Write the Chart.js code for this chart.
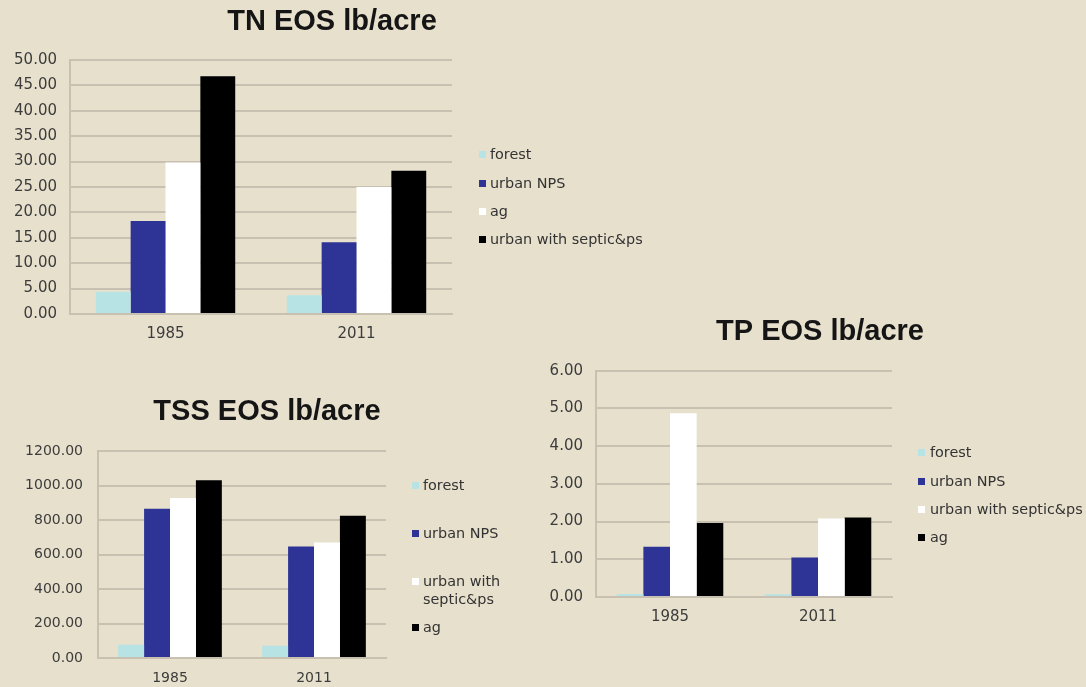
<!DOCTYPE html>
<html>
<head>
<meta charset="utf-8">
<script src="https://cdn.jsdelivr.net/npm/chart.js@4.4.1/dist/chart.umd.min.js"></script>
<style>
html, body { margin:0; padding:0; width:1086px; height:687px; overflow:hidden; background:#e7e0cd; position:relative; }
canvas { position:absolute; }
.lg { position:absolute; font-family:"DejaVu Sans", sans-serif; font-size:14.4px; line-height:18px; color:#333; white-space:nowrap; }
.mk { position:absolute; width:7px; height:7px; }
</style>
</head>
<body>
<canvas id="tn" width="664" height="354" style="left:0px;top:0px"></canvas>
<canvas id="tss" width="534" height="296" style="left:0px;top:390px"></canvas>
<canvas id="tp" width="560" height="337" style="left:540px;top:300px"></canvas>
<script>
// ---- data ----
const categories = ['1985', '2011'];

const tnSeriesNames = ['forest', 'urban NPS', 'ag', 'urban with septic&ps'];
const tnForest = [4.4, 3.7];
const tnUrbanNPS = [18.3, 14.1];
const tnAg = [29.8, 25.0];
const tnUrbanSeptic = [46.8, 28.2];
const tnTickMax = 50;
const tnTickStep = 5;

const tssSeriesNames = ['forest', 'urban NPS', 'urban with septic&ps', 'ag'];
const tssForest = [77, 71];
const tssUrbanNPS = [865, 647];
const tssUrbanSeptic = [927, 670];
const tssAg = [1030, 825];
const tssTickMax = 1200;
const tssTickStep = 200;

const tpSeriesNames = ['forest', 'urban NPS', 'urban with septic&ps', 'ag'];
const tpForest = [0.08, 0.07];
const tpUrbanNPS = [1.33, 1.05];
const tpUrbanSeptic = [4.87, 2.08];
const tpAg = [1.96, 2.11];
const tpTickMax = 6;
const tpTickStep = 1;

// ---- styles ----
const C_FOREST = '#b8e3e5';
const C_NPS = '#2e3496';
const C_WHITE = '#ffffff';
const C_BLACK = '#000000';
const GRID = 'rgb(200,193,178)';
const TICK = '#3c3c3c';

function makeChart(id, cfg) {
  const tickFont = { family: 'DejaVu Sans', size: cfg.fs };
  return new Chart(document.getElementById(id), {
    type: 'bar',
    data: {
      labels: categories,
      datasets: cfg.series.map(s => ({
        label: s.name, data: s.data, backgroundColor: s.color,
        borderWidth: 0, barPercentage: 1, categoryPercentage: cfg.catPct
      }))
    },
    options: {
      responsive: false,
      animation: false,
      events: [],
      layout: { padding: 0 },
      plugins: {
        legend: { display: false },
        tooltip: { enabled: false },
        title: {
          display: true, text: cfg.title, color: '#151515',
          font: { family: 'Liberation Sans', size: 29, weight: 'bold', lineHeight: 1.2 },
          padding: { top: cfg.tTop, bottom: cfg.tBot }
        }
      },
      scales: {
        x: {
          grid: { display: false, drawTicks: false },
          border: { display: true, color: GRID, width: 2 },
          ticks: { padding: cfg.xPad, color: TICK, font: tickFont },
          afterFit: s => { s.height = cfg.xH; }
        },
        y: {
          min: 0, max: cfg.max,
          grid: { color: GRID, lineWidth: 2, drawTicks: false },
          border: { display: true, color: GRID, width: 2 },
          ticks: { stepSize: cfg.step, padding: cfg.yPad, color: TICK, font: tickFont,
                   callback: v => Number(v).toFixed(2) },
          afterFit: s => { s.width = cfg.yW; }
        },
        // empty right-hand box that reserves the room used by the legend
        legendSpace: {
          type: 'linear', position: 'right', display: true,
          grid: { display: false, drawTicks: false },
          border: { display: false },
          ticks: { display: false },
          afterFit: s => { s.width = cfg.padRight; }
        }
      }
    }
  });
}

makeChart('tn', {
  title: 'TN EOS lb/acre', max: tnTickMax, step: tnTickStep, catPct: 0.73, fs: 15,
  padRight: 212, yW: 70, yPad: 13, xH: 40, xPad: 11, tTop: 5, tBot: 20.2,
  series: [
    { name: tnSeriesNames[0], data: tnForest, color: C_FOREST },
    { name: tnSeriesNames[1], data: tnUrbanNPS, color: C_NPS },
    { name: tnSeriesNames[2], data: tnAg, color: C_WHITE },
    { name: tnSeriesNames[3], data: tnUrbanSeptic, color: C_BLACK }
  ]
});

makeChart('tss', {
  title: 'TSS EOS lb/acre', max: tssTickMax, step: tssTickStep, catPct: 0.72, fs: 14,
  padRight: 148, yW: 98, yPad: 15, xH: 28, xPad: 12, tTop: 4.6, tBot: 21.6,
  series: [
    { name: tssSeriesNames[0], data: tssForest, color: C_FOREST },
    { name: tssSeriesNames[1], data: tssUrbanNPS, color: C_NPS },
    { name: tssSeriesNames[2], data: tssUrbanSeptic, color: C_WHITE },
    { name: tssSeriesNames[3], data: tssAg, color: C_BLACK }
  ]
});

makeChart('tp', {
  title: 'TP EOS lb/acre', max: tpTickMax, step: tpTickStep, catPct: 0.72, fs: 15,
  padRight: 208, yW: 56, yPad: 13, xH: 40, xPad: 11, tTop: 14.6, tBot: 21.3,
  series: [
    { name: tpSeriesNames[0], data: tpForest, color: C_FOREST },
    { name: tpSeriesNames[1], data: tpUrbanNPS, color: C_NPS },
    { name: tpSeriesNames[2], data: tpUrbanSeptic, color: C_WHITE },
    { name: tpSeriesNames[3], data: tpAg, color: C_BLACK }
  ]
});

// ---- legends (HTML, real text) ----
function legend(markerX, textX, centers, names, colors, lines) {
  names.forEach((n, i) => {
    const cy = centers[i];
    const m = document.createElement('div');
    m.className = 'mk';
    m.style.left = markerX + 'px';
    m.style.top = (cy - 3.5) + 'px';
    m.style.background = colors[i];
    document.body.appendChild(m);
    const t = document.createElement('div');
    t.className = 'lg';
    t.style.left = textX + 'px';
    t.style.top = (cy - 9) + 'px';
    const parts = (lines && lines[i]) ? lines[i] : [n];
    parts.forEach((p, k) => {
      if (k) t.appendChild(document.createElement('br'));
      t.appendChild(document.createTextNode(p));
    });
    document.body.appendChild(t);
  });
}
legend(479, 490, [154, 183, 211, 239], tnSeriesNames, [C_FOREST, C_NPS, C_WHITE, C_BLACK]);
legend(412, 423, [485, 533, 581, 627], tssSeriesNames, [C_FOREST, C_NPS, C_WHITE, C_BLACK],
       { 2: ['urban with', 'septic&ps'] });
legend(918, 930, [452, 481, 509, 537], tpSeriesNames, [C_FOREST, C_NPS, C_WHITE, C_BLACK]);
</script>
</body>
</html>
